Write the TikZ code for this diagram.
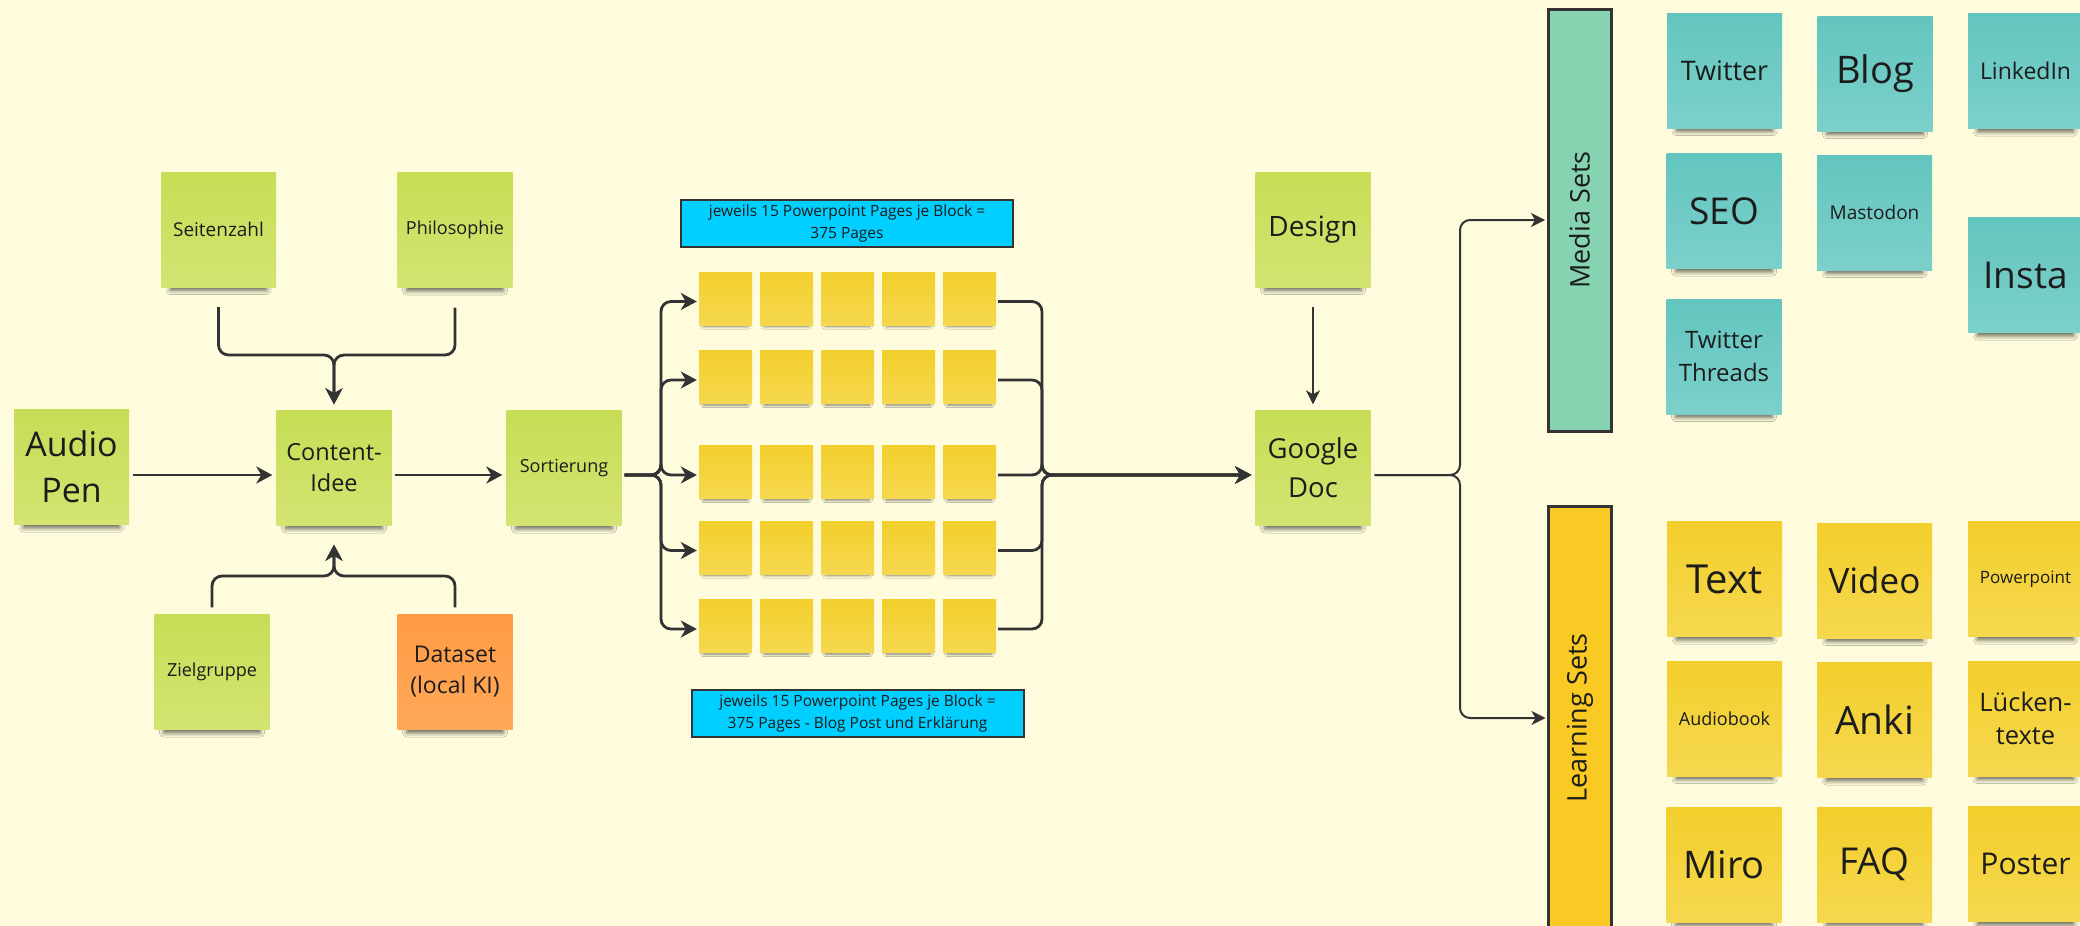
\documentclass[tikz,border=0pt]{standalone}
\usepackage{fontspec}
\setmainfont{Open Sans}
\usetikzlibrary{arrows.meta,calc,shadows.blur}
\definecolor{bg}{HTML}{FEFCDC}
\definecolor{ln}{HTML}{333333}
\definecolor{txt}{HTML}{1C1C1C}
\definecolor{gtop}{HTML}{C7DD55}
\definecolor{gbot}{HTML}{D3E472}
\definecolor{ytop}{HTML}{F2CF2C}
\definecolor{ybot}{HTML}{F6D84F}
\definecolor{ttop}{HTML}{63C5BF}
\definecolor{tbot}{HTML}{7CD0CA}
\definecolor{otop}{HTML}{FF9B44}
\definecolor{obot}{HTML}{FFA95A}
\definecolor{cyanbox}{HTML}{00CFFF}
\definecolor{mediabar}{HTML}{86D3B1}
\definecolor{learnbar}{HTML}{F9CA24}
\newcommand{\fs}[2]{\fontsize{#1}{#2}\selectfont}
\begin{document}
\begin{tikzpicture}[x=1pt,y=-1pt,
  sticky/.style={minimum width=115pt, minimum height=115pt, inner sep=0pt, align=center, text=txt,
    blur shadow={shadow xshift=0pt, shadow yshift=-15pt, shadow blur radius=5pt, shadow opacity=60, shadow scale=0.84}},
  gnote/.style={sticky, top color=gtop, bottom color=gbot},
  onote/.style={sticky, top color=otop, bottom color=obot},
  tnote/.style={sticky, top color=ttop, bottom color=tbot},
  ynote/.style={sticky, top color=ytop, bottom color=ybot},
  ysq/.style={minimum width=53pt, minimum height=53pt, inner sep=0pt, top color=ytop, bottom color=ybot,
    blur shadow={shadow xshift=0pt, shadow yshift=-7pt, shadow blur radius=3pt, shadow opacity=50, shadow scale=0.84}},
  cyanlab/.style={draw=ln, line width=2pt, fill=cyanbox, minimum width=332pt, minimum height=47pt, inner sep=0pt, align=center, text=txt, font=\fs{15.5}{22}},
  bar/.style={draw=ln, line width=3pt, minimum width=63pt, inner sep=0pt},
  barlabel/.style={rotate=90, text=txt, font=\fs{27}{30}},
  conn/.style={draw=ln, line width=2.8pt, rounded corners=10pt},
  arr/.style={conn, -{Stealth[length=16pt,width=17pt,inset=5pt]}},
  thinarr/.style={draw=ln, line width=2pt, rounded corners=10pt, -{Stealth[length=14pt,width=14pt,inset=4pt]}}
]
\useasboundingbox (0,0) rectangle (2080,926);
\fill[bg] (0,0) rectangle (2080,926);
\clip (0,0) rectangle (2080,926);

% left stickies
\node[gnote, font=\fs{19}{24}] (seiten) at (218.5,229.5) {Seitenzahl};
\node[gnote, font=\fs{18}{24}] (philo) at (455,230) {Philosophie};
\node[gnote, font=\fs{34}{46}] (audio) at (71.5,467) {Audio\\Pen};
\node[gnote, font=\fs{23.5}{31}] (content) at (334,468) {Content-\\Idee};
\node[gnote, font=\fs{18}{24}] (sort) at (564,468) {Sortierung};
\node[gnote, font=\fs{18}{24}] (ziel) at (212,672) {Zielgruppe};
\node[onote, font=\fs{23}{31}] (data) at (455,672) {Dataset\\(local KI)};
\node[gnote, font=\fs{28}{38}] (design) at (1313,229.5) {Design};
\node[gnote, font=\fs{27.5}{39}] (gdoc) at (1313,468) {Google\\Doc};

% labels
\node[cyanlab] (toplab) at (847,223.5) {jeweils 15 Powerpoint Pages je Block =\\375 Pages};
\node[cyanlab] (botlab) at (857.5,713) {jeweils 15 Powerpoint Pages je Block =\\375 Pages - Blog Post und Erklärung};

% grid
\foreach \r/\y in {1/298.5,2/377,3/472,4/547.5,5/626}
  \foreach \c/\x in {1/725.5,2/786.5,3/847.5,4/908.5,5/969.5}
    \node[ysq] (r\r c\c) at (\x,\y) {};

% bars
\node[bar, fill=mediabar, minimum height=422pt] (media) at (1579.5,220) {};
\node[barlabel] (medialab) at (media.center) {Media Sets};
\node[bar, fill=learnbar, minimum height=424pt] (learn) at (1580,718) {};
\node[barlabel] (learnlab) at (learn.center) {Learning Sets};

% media stickies
\node[tnote, font=\fs{27}{33}] (twitter) at (1724.5,70.5) {Twitter};
\node[tnote, font=\fs{38}{44}] (blog) at (1875,73.5) {Blog};
\node[tnote, font=\fs{23}{30}] (linkedin) at (2025.5,71) {LinkedIn};
\node[tnote, font=\fs{37}{44}] (seo) at (1724,211) {SEO};
\node[tnote, font=\fs{19}{24}] (mastodon) at (1874.5,212.5) {Mastodon};
\node[tnote, font=\fs{37}{44}] (insta) at (2025.5,275) {Insta};
\node[tnote, font=\fs{24}{33}] (threads) at (1724,356.5) {Twitter\\Threads};

% learning stickies
\node[ynote, font=\fs{40}{46}] (text) at (1724.5,579) {Text};
\node[ynote, font=\fs{35}{42}] (video) at (1874.5,580.5) {Video};
\node[ynote, font=\fs{17}{22}] (ppt) at (2025.5,579) {Powerpoint};
\node[ynote, font=\fs{18}{24}] (audiobook) at (1724.5,718.5) {Audiobook};
\node[ynote, font=\fs{39}{46}] (anki) at (1874.5,720) {Anki};
\node[ynote, font=\fs{25.5}{33}] (luecken) at (2025.5,718.5) {Lücken-\\texte};
\node[ynote, font=\fs{38}{44}] (miro) at (1724,864.5) {Miro};
\node[ynote, font=\fs{37}{44}] (faq) at (1874.5,864.5) {FAQ};
\node[ynote, font=\fs{30}{36}] (poster) at (2025.5,864) {Poster};

% junctions
\coordinate (jt) at (334,355);
\coordinate (jb) at (334,576);
\coordinate (lbus) at (661,475);
\coordinate (rbus) at (1042,475);
\coordinate (gbus) at (1460,475);

% connectors
\draw[arr] ($(seiten.south)+(0,20)$) |- (jt) -- ($(content.north)+(0,-6)$);
\draw[arr] ($(philo.south)+(0,20)$) |- (jt) -- ($(content.north)+(0,-6)$);
\draw[arr] ($(ziel.north)+(0,-7)$) |- (jb) -- ($(content.south)+(0,19)$);
\draw[arr] ($(data.north)+(0,-7)$) |- (jb) -- ($(content.south)+(0,19)$);
\draw[arr] ($(audio.east |- lbus)+(4,0)$) -- ($(content.west |- lbus)+(-4,0)$);
\draw[arr] ($(content.east |- lbus)+(3,0)$) -- ($(sort.west |- lbus)+(-4,0)$);
\foreach \r in {1,2,3,4,5}{
  \draw[arr] ($(sort.east |- lbus)+(3,0)$) -- (lbus) |- ($(r\r c1.west)+(-2,3)$);
  \draw[arr] ($(r\r c5.east)+(2,3)$) -| (rbus) -- ($(gdoc.west |- rbus)+(-4,0)$);
}
\draw[thinarr] ($(design.south)+(0,20)$) -- ($(gdoc.north)+(0,-6)$);
\draw[thinarr] ($(gdoc.east |- gbus)+(4,0)$) -- (gbus) |- ($(media.west)+(-1.5,0)$);
\draw[thinarr] ($(gdoc.east |- gbus)+(4,0)$) -- (gbus) |- ($(learn.west)+(-1.5,0)$);
\end{tikzpicture}
\end{document}
